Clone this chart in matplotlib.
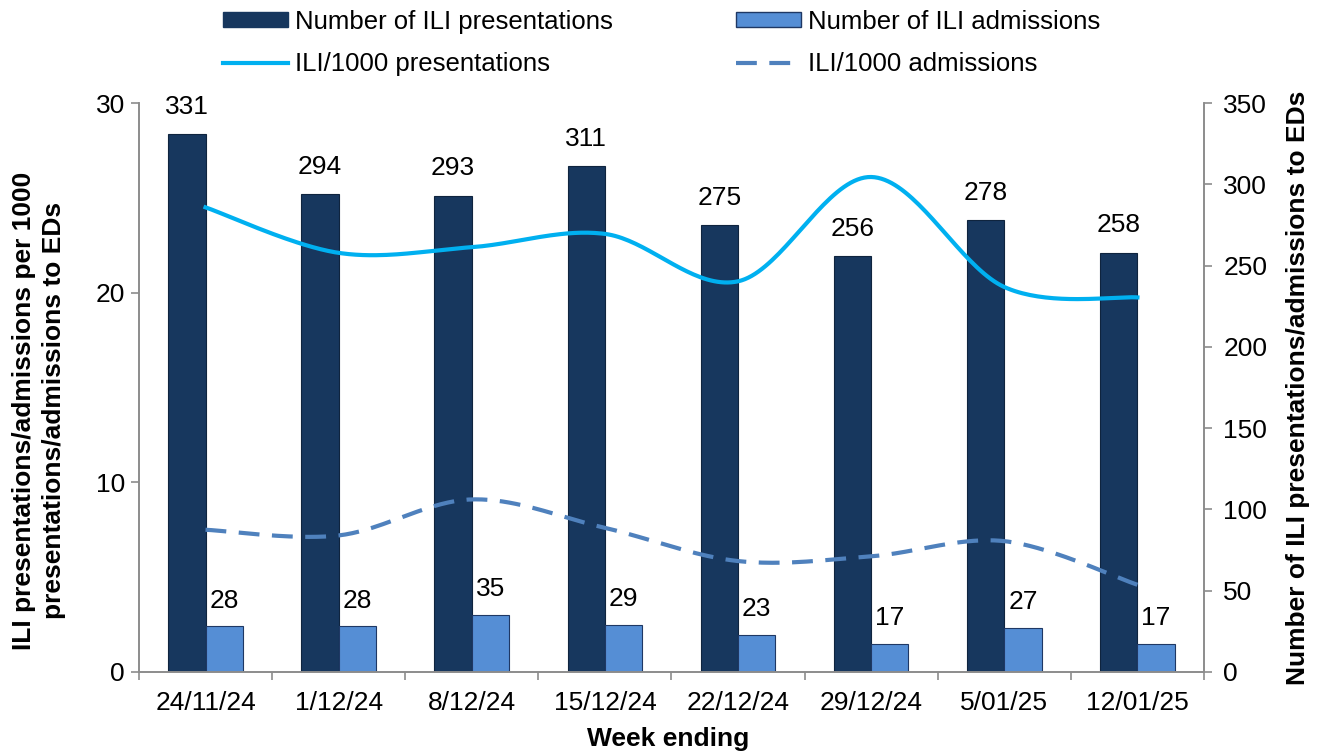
import numpy as np
import matplotlib
matplotlib.use("Agg")
import matplotlib.pyplot as plt
from matplotlib.patches import Patch
from matplotlib.lines import Line2D

plt.rcParams['font.family'] = ['Liberation Sans', 'DejaVu Sans']

# data
weeks = ['24/11/24', '1/12/24', '8/12/24', '15/12/24', '22/12/24', '29/12/24', '5/01/25', '12/01/25']
presentations = [331, 294, 293, 311, 275, 256, 278, 258]
admissions = [28, 28, 35, 29, 23, 17, 27, 17]
rate_presentations = [24.5, 22.1, 22.4, 23.1, 20.6, 26.1, 20.3, 19.75]
rate_admissions = [7.5, 7.2, 9.1, 7.6, 5.85, 6.1, 6.9, 4.6]

DARK = '#17375E'
LIGHT = '#558ED5'
CYAN = '#00B0F0'
DASH = '#4F81BD'
GREY = '#8C8C8C'
FS = 19


def smooth(xs, ys, n=40):
    # excel-like smoothed line (catmull-rom bezier)
    p = np.column_stack([xs, ys]).astype(float)
    out = []
    t = np.linspace(0, 1, n)[:, None]
    for i in range(len(p) - 1):
        p0 = p[max(i - 1, 0)]
        p1 = p[i]
        p2 = p[i + 1]
        p3 = p[min(i + 2, len(p) - 1)]
        c1 = p1 + (p2 - p0) / 6
        c2 = p2 - (p3 - p1) / 6
        seg = ((1 - t) ** 3) * p1 + 3 * ((1 - t) ** 2) * t * c1 + 3 * (1 - t) * t ** 2 * c2 + t ** 3 * p2
        out.append(seg if i == 0 else seg[1:])
    out = np.vstack(out)
    return out[:, 0], out[:, 1]


fig = plt.figure(figsize=(13.27, 7.51), dpi=100)
ax = fig.add_axes([0.1047, 0.1052, 0.8026, 0.7576])
ax2 = ax.twinx()
ax.set_zorder(ax2.get_zorder() + 1)
ax.patch.set_visible(False)

x = np.arange(len(weeks))
w = 0.28
b1 = ax2.bar(x - w / 2, presentations, w, color=DARK, edgecolor='#0F243E', linewidth=0.8)
b2 = ax2.bar(x + w / 2, admissions, w, color=LIGHT, edgecolor='#1F3864', linewidth=0.8)
for rect, v in zip(b1, presentations):
    ax2.annotate(str(v), (rect.get_x() + rect.get_width() / 2, v), xytext=(0, 11),
                 textcoords='offset points', ha='center', va='bottom', fontsize=FS)
for rect, v in zip(b2, admissions):
    ax2.annotate(str(v), (rect.get_x() + rect.get_width() / 2, v), xytext=(0, 10),
                 textcoords='offset points', ha='center', va='bottom', fontsize=FS)

sx, sy = smooth(x, rate_presentations)
ax.plot(sx, sy, color=CYAN, lw=3)
sx, sy = smooth(x, rate_admissions)
ax.plot(sx, sy, color=DASH, lw=3, dashes=(5, 3))

ax.set_xlim(-0.5, len(weeks) - 0.5)
ax.set_ylim(0, 30)
ax.set_yticks([0, 10, 20, 30])
ax2.set_ylim(0, 350)
ax2.set_yticks(range(0, 351, 50))

ax.set_xticks(x)
ax.set_xticklabels(weeks, fontsize=FS)
ax.set_xticks(np.arange(-0.5, len(weeks)), minor=True)
ax.tick_params(axis='x', which='major', length=0, pad=14)
ax.tick_params(axis='x', which='minor', length=6, color=GREY, width=1.2)
ax.tick_params(axis='y', labelsize=FS, length=6, color=GREY, width=1.2, pad=4)
ax2.tick_params(axis='y', labelsize=FS, length=6, color=GREY, width=1.2, pad=8)

for a in (ax, ax2):
    a.spines['top'].set_visible(False)
    for s in ('left', 'right', 'bottom'):
        a.spines[s].set_color(GREY)
        a.spines[s].set_linewidth(1.2)

fig.text(0.5035, 0.0, 'Week ending', ha='center', va='bottom', fontsize=FS, fontweight='bold')
fig.text(0.0295, 0.453, 'ILI presentations/admissions per 1000\npresentations/admissions to EDs',
         rotation=90, ha='center', va='center', fontsize=FS, fontweight='bold', linespacing=1.3)
fig.text(0.978, 0.483, 'Number of ILI presentations/admissions to EDs',
         rotation=90, ha='center', va='center', fontsize=FS, fontweight='bold')

handles = [Patch(facecolor=DARK, edgecolor=DARK), Patch(facecolor=LIGHT, edgecolor='#1F3864'),
           Line2D([], [], color=CYAN, lw=3), Line2D([], [], color=DASH, lw=3, dashes=(5, 3))]
labels = ['Number of ILI presentations', 'Number of ILI admissions',
          'ILI/1000 presentations', 'ILI/1000 admissions']
# reorder for row-wise filling in 2 columns
order = [0, 2, 1, 3]
fig.legend([handles[i] for i in order], [labels[i] for i in order], ncol=2, loc='center',
           bbox_to_anchor=(662 / 1327, 1 - 43 / 751), frameon=False, fontsize=18.5,
           handlelength=2.5, handleheight=0.55, handletextpad=0.3, columnspacing=4.8,
           labelspacing=0.72)

fig.savefig('out.png', dpi=100)
